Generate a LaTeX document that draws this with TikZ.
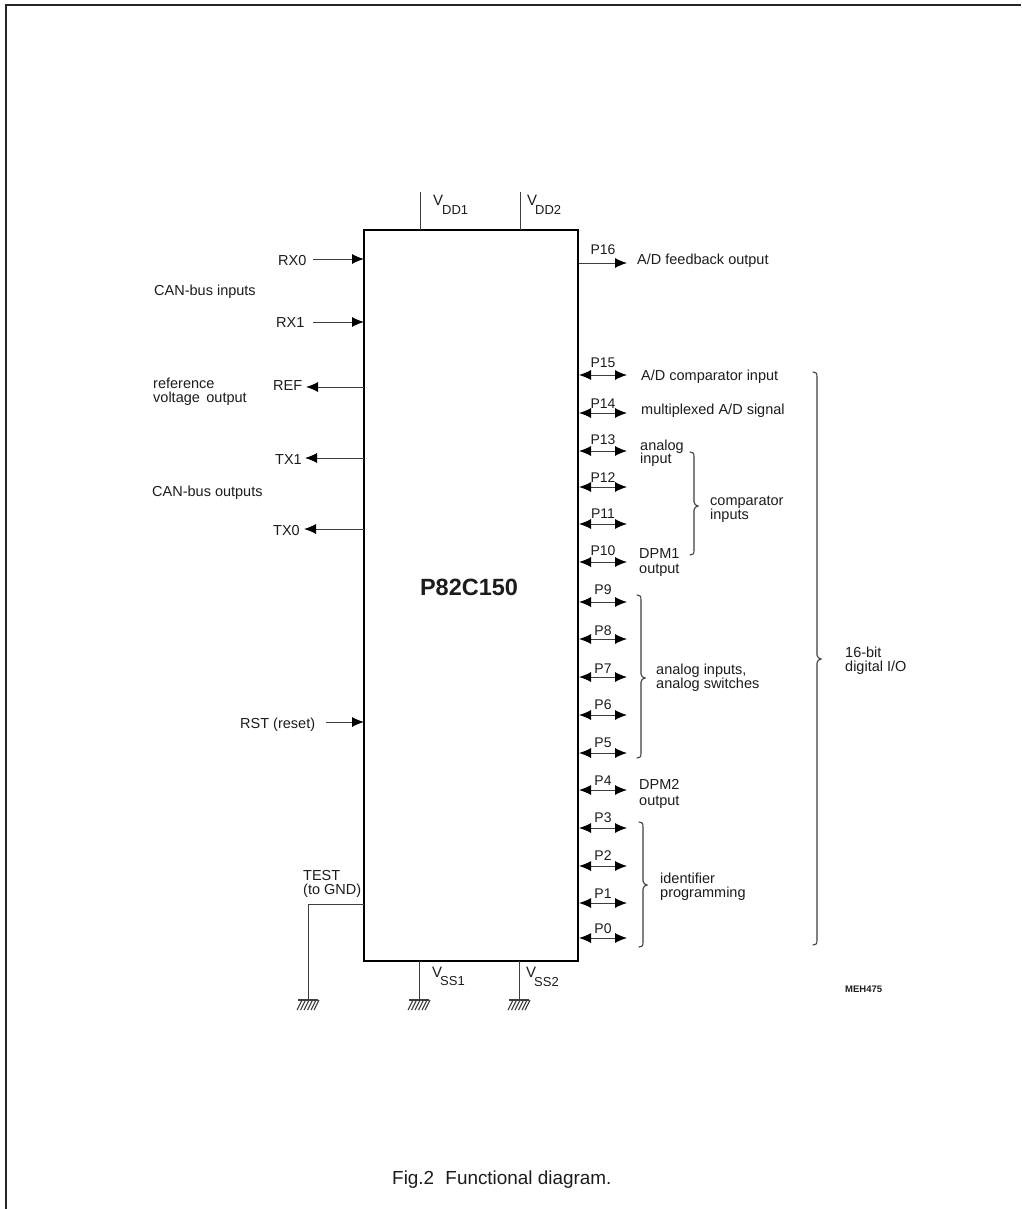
\documentclass[tikz,border=0pt]{standalone}
\usepackage{fontspec}
\setmainfont{Liberation Sans}
\usetikzlibrary{arrows.meta,calc}
\definecolor{ink}{HTML}{1C1C1C}
\tikzset{
  every node/.style={text=ink},
  lab/.style={anchor=base west,inner sep=0pt,font=\fontsize{14.5}{16}\selectfont,align=left},
  sublab/.style={anchor=base west,inner sep=0pt,font=\fontsize{13}{15}\selectfont},
  vlab/.style={anchor=base west,inner sep=0pt,font=\fontsize{15}{17}\selectfont},
  pinlab/.style={anchor=base,inner sep=0pt,font=\fontsize{14}{16}\selectfont},
  wire/.style={draw=ink!85,line width=1pt},
  tiphead/.tip={Latex[length=12pt,width=10pt,black]},
  outw/.style={wire,-tiphead},
  bidir/.style={wire,tiphead-tiphead},
  chipbox/.style={draw=black,line width=2pt,minimum width=214pt,minimum height=731pt,inner sep=0pt},
  bracel/.style={draw=ink!85,line width=1.1pt,line cap=round},
  framel/.style={draw=black!85,line width=1.6pt}
}
\newcommand{\gndmark}[1]{%
  \draw[wire,line width=1.3pt] ($(#1)+(-10,0)$) -- ($(#1)+(10,0)$);
  \foreach \dx in {-6,-2.5,1,4.5,8,11}{\draw[wire,line width=1.1pt] ($(#1)+(\dx,0)$) -- ($(#1)+(\dx-5,10)$);}
}
\newcommand{\brc}[4]{% x, y top, y tip, y bottom
  \draw[bracel] (#1-4,#2) .. controls (#1-1,#2) and (#1,#2+1) .. (#1,#2+5) -- (#1,#3-4)
    .. controls (#1,#3-2) and (#1+2,#3) .. (#1+4,#3)
    .. controls (#1+2,#3) and (#1,#3+2) .. (#1,#3+4) -- (#1,#4-5)
    .. controls (#1,#4-1) and (#1-1,#4) .. (#1-4,#4);
}
\begin{document}
\begin{tikzpicture}[x=1pt,y=-1pt]
\useasboundingbox (0,0) rectangle (1021,1209);
% page frame
\coordinate (fa) at (6,1209); \coordinate (fb) at (6,5); \coordinate (fc) at (1021,5);
\draw[framel] (fa) -- (fb) -- (fc);
% chip
\node[chipbox] (chip) at (471,595.5) {};
\node[anchor=base,inner sep=0pt,font=\fontsize{23.5}{26}\selectfont\bfseries] (title) at (469,595) {P82C150};
% supply
\coordinate (vd1) at (420,192); \coordinate (vd1c) at (420,230);
\coordinate (vd2) at (520,192); \coordinate (vd2c) at (520,230);
\draw[wire] (vd1) -- (vd1c); \draw[wire] (vd2) -- (vd2c);
\node[vlab] (vdda) at (433,205) {V}; \node[sublab] (vddas) at (442,214) {DD1};
\node[vlab] (vddb) at (527,205) {V}; \node[sublab] (vddbs) at (535,214) {DD2};
\coordinate (vs1c) at (419,961); \coordinate (vs1) at (419,1000);
\coordinate (vs2c) at (519,961); \coordinate (vs2) at (519,1000);
\coordinate (tc) at (364,904); \coordinate (tk) at (308,904); \coordinate (tg) at (308,1000);
\draw[wire] (vs1c) -- (vs1); \draw[wire] (vs2c) -- (vs2);
\draw[wire] (tc) -- (tk) -- (tg);
\gndmark{vs1}\gndmark{vs2}\gndmark{tg}
\node[vlab] (vssa) at (432,977) {V}; \node[sublab] (vssas) at (440,985) {SS1};
\node[vlab] (vssb) at (526,977) {V}; \node[sublab] (vssbs) at (534,986) {SS2};
% left pins
\foreach \nm/\txt/\tx/\ty/\ax/\ay/\kind in {
  rxa/RX0/278/265/313/259/in, rxb/RX1/276/327/313/322/in, rst/RST (reset)/240/728/326/722/in,
  ref/REF/273/390/306/387/out, txb/TX1/275/464/305/458/out, txa/TX0/273/535/304/529/out}{
  \coordinate (\nm f) at (\ax,\ay); \coordinate (\nm c) at (364,\ay);
  \node[lab] (\nm l) at (\tx,\ty) {\txt};
  \ifnum\pdfstrcmp{\kind}{in}=0 \draw[outw] (\nm f) -- (\nm c); \else \draw[outw] (\nm c) -- (\nm f); \fi
}
\node[lab] (canin) at (154,295) {CAN-bus inputs};
\node[lab] (refa) at (153,388) {reference};
\node[lab] (refb) at (153,402) {voltage\, output};
\node[lab] (canout) at (152,496) {CAN-bus outputs};
\node[lab] (test) at (303,880) {TEST};
\node[lab] (testb) at (303,894) {(to GND)};
% P16 output
\coordinate (p16s) at (579,263); \coordinate (p16e) at (627,263);
\draw[outw] (p16s) -- (p16e);
\node[pinlab] (p16l) at (603,254) {P16};
% bidirectional pins
\foreach \n/\y/\ly in {15/375/367,14/413/408,13/451/444,12/487/482,11/524/518,10/562/555,
  9/602/594,8/639/635,7/677/673,6/715/709,5/753/747,4/790/785,3/828/822,2/866/860,1/903/898,0/938/933}{
  \coordinate (p\n s) at (579,\y); \coordinate (p\n e) at (627,\y);
  \draw[bidir] (p\n s) -- (p\n e);
  \node[pinlab] (p\n l) at (603,\ly) {P\n};
}
% right labels
\node[lab] (fb) at (637,264) {A/D feedback output};
\node[lab] (cmpi) at (641,380) {A/D comparator input};
\node[lab] (mux) at (641,414) {multiplexed A/D signal};
\node[lab] (ana) at (640,450) {analog};
\node[lab] (anb) at (640,463) {input};
\node[lab] (dpa) at (639,558) {DPM1};
\node[lab] (dpb) at (639,573) {output};
\node[lab] (cma) at (710,505) {comparator};
\node[lab] (cmb) at (710,519) {inputs};
\node[lab] (asa) at (656,674) {analog inputs,};
\node[lab] (asb) at (656,688) {analog switches};
\node[lab] (dqa) at (639,789) {DPM2};
\node[lab] (dqb) at (639,805) {output};
\node[lab] (ida) at (660,883) {identifier};
\node[lab] (idb) at (660,897) {programming};
\node[lab] (bita) at (845,657) {16-bit};
\node[lab] (bitb) at (845,671) {digital I/O};
\node[anchor=base west,inner sep=0pt,font=\fontsize{9.5}{11}\selectfont\bfseries] (code) at (845,992) {MEH475};
\node[anchor=base west,inner sep=0pt,font=\fontsize{18.9}{21}\selectfont] (cap) at (392,1184) {Fig.2\hspace{6pt} Functional diagram.};
% braces
\brc{694}{452}{506}{555}
\brc{641}{595}{678}{758}
\brc{643}{822}{885}{947}
\brc{817}{372}{659}{945}
\end{tikzpicture}
\end{document}
